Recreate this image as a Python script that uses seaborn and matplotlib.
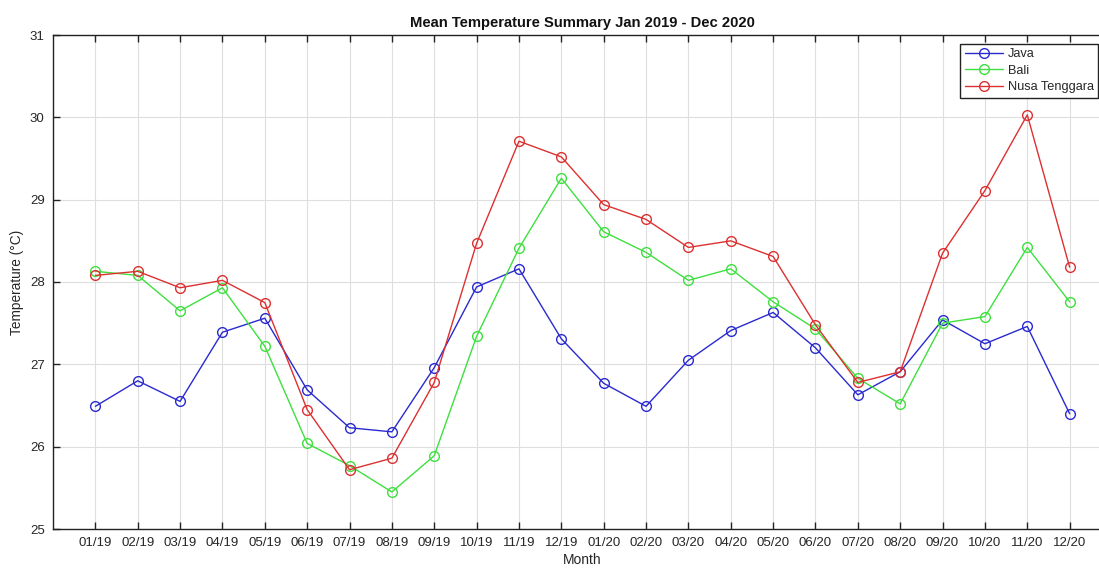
import matplotlib
matplotlib.use("Agg")
import matplotlib.pyplot as plt
import seaborn as sns
import pandas as pd
import numpy as np

months = ["01/19", "02/19", "03/19", "04/19", "05/19", "06/19", "07/19", "08/19",
          "09/19", "10/19", "11/19", "12/19", "01/20", "02/20", "03/20", "04/20",
          "05/20", "06/20", "07/20", "08/20", "09/20", "10/20", "11/20", "12/20"]
java = [26.49, 26.80, 26.55, 27.39, 27.56, 26.69, 26.23, 26.18, 26.96, 27.94, 28.16, 27.31,
        26.77, 26.49, 27.05, 27.41, 27.63, 27.20, 26.63, 26.91, 27.54, 27.25, 27.46, 26.40]
bali = [28.13, 28.08, 27.65, 27.93, 27.22, 26.04, 25.77, 25.45, 25.89, 27.34, 28.41, 29.26,
        28.61, 28.36, 28.02, 28.16, 27.76, 27.43, 26.83, 26.52, 27.50, 27.58, 28.42, 27.76]
nusa = [28.08, 28.13, 27.93, 28.02, 27.75, 26.45, 25.72, 25.86, 26.78, 28.47, 29.71, 29.52,
        28.94, 28.76, 28.42, 28.50, 28.31, 27.48, 26.78, 26.91, 28.35, 29.11, 30.03, 28.18]
series_names = ["Java", "Bali", "Nusa Tenggara"]
colors = ["#2a2ad0", "#3ee03e", "#dd3030"]

sns.set_theme(style="white")
plt.rcParams["font.family"] = ["Liberation Sans", "DejaVu Sans"]

fig = plt.figure(figsize=(10.99, 5.68), dpi=100)
ax = fig.add_axes([53 / 1099, 39 / 568, 1059 / 1099, 494 / 568])

idx = np.arange(1, len(months) + 1)
for name, vals, c in zip(series_names, [java, bali, nusa], colors):
    df = pd.DataFrame({"x": idx, "y": vals})
    sns.lineplot(data=df, x="x", y="y", ax=ax, color=c, marker="o",
                 markersize=7, markerfacecolor="none", markeredgecolor=c,
                 markeredgewidth=1.0, linewidth=1.0, label=name)

ax.set_xlim(0, 25)
ax.set_ylim(25, 31)
ax.set_xticks(idx)
ax.set_xticklabels(months)
ax.set_yticks(np.arange(25, 32, 1))
ax.grid(True, color="#dedede", linewidth=0.8)
ax.tick_params(direction="in", length=5, width=1, color="#222222", labelsize=9.5,
               top=True, right=True, bottom=True, left=True, labelcolor="#262626", pad=6)
for s in ax.spines.values():
    s.set_color("#222222")
    s.set_linewidth(1.0)
    s.set_visible(True)

ax.set_title("Mean Temperature Summary Jan 2019 - Dec 2020", fontsize=10.6,
             fontweight="bold", pad=6, color="#111111")
ax.set_xlabel("Month", fontsize=10, labelpad=3, color="#262626")
ax.set_ylabel("Temperature (°C)", fontsize=9.8, labelpad=4, color="#262626")

leg = ax.legend(loc="upper right", bbox_to_anchor=(0.987, 0.982), fontsize=9.2,
                frameon=True, fancybox=False, edgecolor="#222222", framealpha=1,
                handlelength=3.0, borderpad=0.35, labelspacing=0.35, handletextpad=0.35,
                borderaxespad=0)
leg.get_frame().set_linewidth(1.0)

fig.savefig("out.png", dpi=100)
